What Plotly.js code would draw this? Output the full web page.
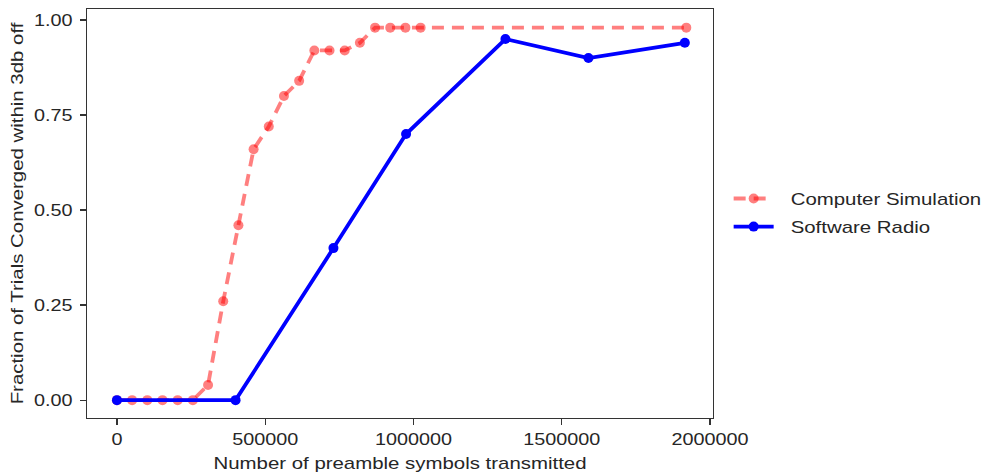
<!DOCTYPE html>
<html>
<head>
<meta charset="utf-8">
<script src="https://cdn.plot.ly/plotly-3.0.1.min.js"></script>
<style>
  html, body { margin: 0; padding: 0; background: #fff; }
  #chart { width: 982px; height: 474px; }
</style>
</head>
<body>
<div id="chart"></div>
<script>
// Preamble length (symbols) vs. fraction of trials converged within 3 dB
const simSymbols = [0, 51200, 102400, 153600, 204800, 256000, 307200, 358400, 409600,
  460800, 512000, 563200, 614400, 665600, 716800, 768000, 819200, 870400, 921600,
  972800, 1024000, 1920000];
const simFraction = [0, 0, 0, 0, 0, 0, 0.04, 0.26, 0.46,
  0.66, 0.72, 0.80, 0.84, 0.92, 0.92, 0.92, 0.94, 0.98, 0.98,
  0.98, 0.98, 0.98];

const radioSymbols = [0, 400000, 730000, 975000, 1310000, 1590000, 1915000];
const radioFraction = [0, 0, 0.40, 0.70, 0.95, 0.90, 0.94];

const xTicks = [0, 500000, 1000000, 1500000, 2000000];
const yTicks = [0, 0.25, 0.5, 0.75, 1.0];

const axisColor = '#333333';
const textColor = '#262626';
const fontFamily = '"Liberation Sans", Arial, sans-serif';
// horizontal widening applied to every label (wide sans look)
const textWiden = 1.2;

const traces = [
  {
    x: simSymbols, y: simFraction,
    name: 'Computer Simulation',
    type: 'scatter', mode: 'lines+markers',
    line: { color: 'rgba(255,0,0,0.5)', width: 3.8, dash: '12px,8px' },
    marker: { color: 'rgba(255,0,0,0.5)', size: 10 }
  },
  {
    x: radioSymbols, y: radioFraction,
    name: 'Software Radio',
    type: 'scatter', mode: 'lines+markers',
    line: { color: 'rgb(0,0,255)', width: 3.8 },
    marker: { color: 'rgb(0,0,255)', size: 10 }
  }
];

const layout = {
  width: 982, height: 474,
  margin: { l: 87, r: 269, t: 9, b: 56 },
  paper_bgcolor: '#ffffff', plot_bgcolor: '#ffffff',
  font: { family: fontFamily, size: 17, color: textColor },
  showlegend: true,
  legend: {
    x: 1.025, y: 0.505, xanchor: 'left', yanchor: 'middle',
    font: { family: fontFamily, size: 17, color: textColor },
    bgcolor: 'rgba(0,0,0,0)', itemwidth: 40, tracegroupgap: 0
  },
  xaxis: {
    range: [-101000, 2010000],
    tickvals: xTicks, tickformat: 'd',
    showgrid: false, zeroline: false,
    showline: true, mirror: true, linecolor: axisColor, linewidth: 1.25,
    ticks: 'outside', ticklen: 6, tickwidth: 1.25, tickcolor: axisColor,
    tickfont: { family: fontFamily, size: 16.5, color: textColor },
    title: { text: 'Number of preamble symbols transmitted', standoff: 10,
             font: { family: fontFamily, size: 17, color: textColor } }
  },
  yaxis: {
    range: [-0.047, 1.029],
    tickvals: yTicks, tickformat: '.2f',
    showgrid: false, zeroline: false,
    showline: true, mirror: true, linecolor: axisColor, linewidth: 1.25,
    ticks: 'outside', ticklen: 6, tickwidth: 1.25, tickcolor: axisColor,
    ticklabelstandoff: 4,
    tickfont: { family: fontFamily, size: 16.5, color: textColor },
    title: { text: 'Fraction of Trials Converged within 3db off', standoff: 12,
             font: { family: fontFamily, size: 17, color: textColor } }
  }
};

Plotly.newPlot('chart', traces, layout, { staticPlot: true, displayModeBar: false })
  .then(function (gd) {
    // widen every label
    gd.querySelectorAll('svg text').forEach(function (t) {
      if (!t.textContent) return;
      const len = t.getComputedTextLength();
      if (len > 0) {
        t.setAttribute('textLength', (len * textWiden).toFixed(2));
        t.setAttribute('lengthAdjust', 'spacingAndGlyphs');
      }
    });
    // legend: let the wider labels show, move them off the sample lines, open up row spacing
    gd.querySelectorAll('.legend [clip-path]').forEach(function (el) {
      el.removeAttribute('clip-path');
    });
    gd.querySelectorAll('.legend text.legendtext').forEach(function (t) {
      t.setAttribute('x', parseFloat(t.getAttribute('x') || 0) + 12);
    });
    gd.querySelectorAll('.legend g.traces').forEach(function (g, i) {
      const tr = g.getAttribute('transform') || '';
      g.setAttribute('transform', tr + ' translate(0,' + (i * 3) + ')');
    });
  });
</script>
</body>
</html>
